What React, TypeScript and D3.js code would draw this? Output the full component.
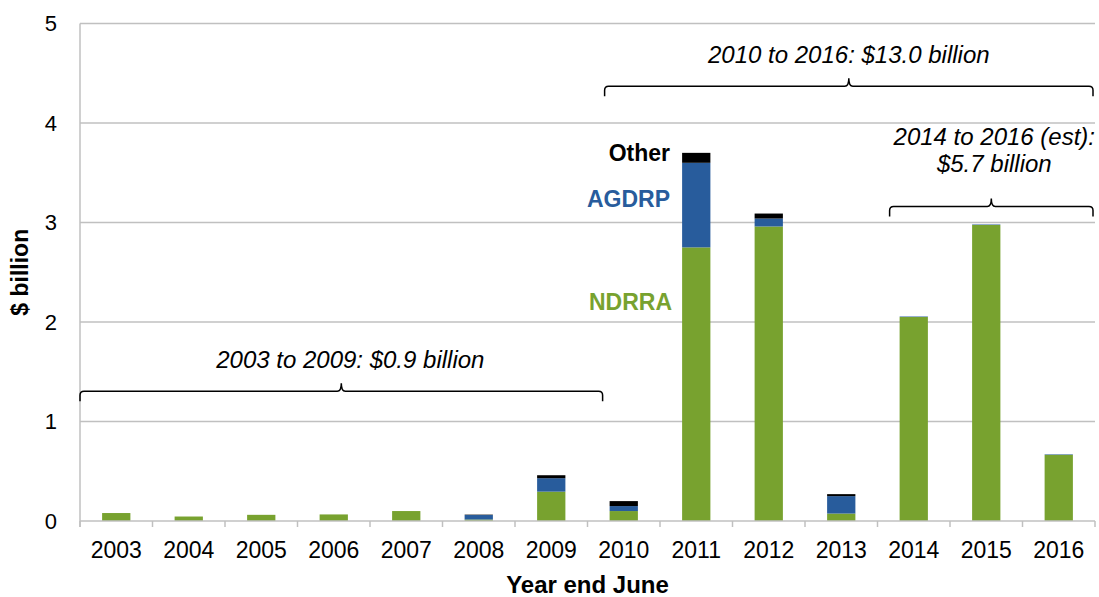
import React from "react";
import * as d3 from "d3";

const years = ["2003", "2004", "2005", "2006", "2007", "2008", "2009", "2010", "2011", "2012", "2013", "2014", "2015", "2016"];
const ndrra = [0.08, 0.045, 0.062, 0.066, 0.1, 0.015, 0.295, 0.1, 2.75, 2.96, 0.075, 2.05, 2.975, 0.665];
const agdrp = [0, 0, 0, 0, 0, 0.045, 0.135, 0.05, 0.85, 0.08, 0.175, 0.005, 0.005, 0.005];
const other = [0, 0, 0, 0, 0, 0.004, 0.03, 0.05, 0.1, 0.05, 0.02, 0, 0, 0];
const yTicks = [0, 1, 2, 3, 4, 5];

const seriesKeys = ["ndrra", "agdrp", "other"];
const colors: Record<string, string> = { ndrra: "#78a22f", agdrp: "#285c9c", other: "#000000" };

const W = 1099;
const H = 597;
const left = 80;
const right = 1095;
const top = 23.5;
const bottom = 521;

const FONT = "'Liberation Sans', Arial, sans-serif";

export default function App() {
  const rows = years.map((year, i) => ({ year, ndrra: ndrra[i], agdrp: agdrp[i], other: other[i] }));
  const stacked = d3.stack<any>().keys(seriesKeys)(rows);

  const x = d3.scaleBand().domain(years).range([left, right]).paddingInner(0.61).paddingOuter(0.305);
  const y = d3.scaleLinear().domain([0, 5]).range([bottom, top]);

  const step = x.step();
  const gap = (step - x.bandwidth()) / 2;
  const boundaries = years.map((yr) => (x(yr) as number) - gap).concat([right]);

  // curly-ish bracket, line height given in $ billion
  const brace = (x0: number, x1: number, yv: number, key: string) => {
    const yl = y(yv);
    const xc = (x0 + x1) / 2;
    const r = 4;
    const d = `M${x0},${yl + 10} L${x0},${yl + r} Q${x0},${yl} ${x0 + r},${yl} L${xc - r},${yl} Q${xc},${yl} ${xc},${yl - 8} Q${xc},${yl} ${xc + r},${yl} L${x1 - r},${yl} Q${x1},${yl} ${x1},${yl + r} L${x1},${yl + 10}`;
    return <path key={key} d={d} fill="none" stroke="#000" strokeWidth={1.5} />;
  };

  const x2010 = x("2010") as number;
  const b1 = [left, x2010 - 7];
  const b2 = [x2010 - 5, right - 2];
  const b3 = [(x("2014") as number) - 10, right - 2];

  return (
    <svg width={W} height={H} style={{ position: "absolute", left: 0, top: 0 }} fontFamily={FONT}>
      <rect width={W} height={H} fill="#fff" />
      {yTicks.filter((t) => t > 0).map((t) => (
        <line key={t} x1={left} x2={right} y1={y(t)} y2={y(t)} stroke="#c0c0c0" strokeWidth={1.5} />
      ))}
      {stacked.map((s) =>
        s.map((d, i) => (
          <rect
            key={s.key + i}
            x={x(years[i])}
            width={x.bandwidth()}
            y={y(d[1])}
            height={Math.max(0, y(d[0]) - y(d[1]))}
            fill={colors[s.key]}
          />
        ))
      )}
      <line x1={left} x2={right} y1={bottom} y2={bottom} stroke="#c0c0c0" strokeWidth={1.5} />
      <line x1={left} x2={left} y1={top} y2={bottom + 6} stroke="#c0c0c0" strokeWidth={1.5} />
      {boundaries.map((b, i) => (
        <line key={i} x1={b} x2={b} y1={bottom} y2={bottom + 6} stroke="#c0c0c0" strokeWidth={1.5} />
      ))}
      {yTicks.map((t) => (
        <text key={t} x={57} y={y(t)} dy="0.35em" textAnchor="end" fontSize={22} fill="#000">
          {t}
        </text>
      ))}
      {years.map((yr) => (
        <text key={yr} x={(x(yr) as number) + x.bandwidth() / 2} y={558} textAnchor="middle" fontSize={23} fill="#000">
          {yr}
        </text>
      ))}
      <text x={(left + right) / 2} y={593} textAnchor="middle" fontSize={24} fontWeight="bold" fill="#000">
        Year end June
      </text>
      <text transform={`translate(28, ${(top + bottom) / 2}) rotate(-90)`} textAnchor="middle" fontSize={23} fontWeight="bold" fill="#000">
        $ billion
      </text>

      {brace(b1[0], b1[1], 1.305, "b1")}
      {brace(b2[0], b2[1], 4.37, "b2")}
      {brace(b3[0], b3[1], 3.16, "b3")}

      <text x={(b1[0] + b1[1]) / 2 + 9} y={368} textAnchor="middle" fontSize={24} fontStyle="italic" fill="#000">
        2003 to 2009: $0.9 billion
      </text>
      <text x={(b2[0] + b2[1]) / 2} y={63} textAnchor="middle" fontSize={24} fontStyle="italic" fill="#000">
        2010 to 2016: $13.0 billion
      </text>
      <text x={(b3[0] + b3[1]) / 2 + 3} y={145} textAnchor="middle" fontSize={24} fontStyle="italic" fill="#000">
        2014 to 2016 (est):
      </text>
      <text x={(b3[0] + b3[1]) / 2 + 3} y={172} textAnchor="middle" fontSize={24} fontStyle="italic" fill="#000">
        $5.7 billion
      </text>

      <text x={670} y={161} textAnchor="end" fontSize={23} fontWeight="bold" fill={colors.other}>
        Other
      </text>
      <text x={670} y={207} textAnchor="end" fontSize={23} fontWeight="bold" fill={colors.agdrp}>
        AGDRP
      </text>
      <text x={672} y={310} textAnchor="end" fontSize={23} fontWeight="bold" fill={colors.ndrra}>
        NDRRA
      </text>
    </svg>
  );
}
